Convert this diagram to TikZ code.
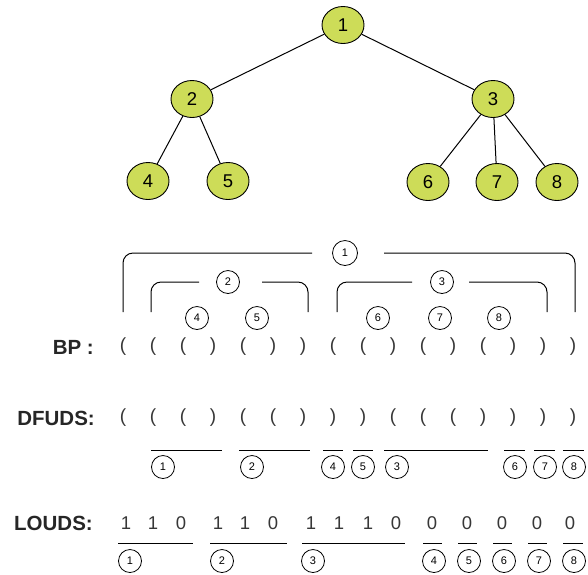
\documentclass[tikz,border=0pt]{standalone}
\usepackage{fontspec}
\setmainfont{Liberation Sans}
\usetikzlibrary{shapes.geometric}
\definecolor{nodefill}{RGB}{205,220,88}
\definecolor{seqgray}{RGB}{55,55,55}
\def\symL{(}
\def\symR{)}
\begin{document}
\begin{tikzpicture}[x=1pt,y=-1pt,
  treenode/.style={ellipse,draw,fill=nodefill,minimum width=42pt,minimum height=37pt,
    inner sep=0pt,line width=0.9pt,font=\fontsize{18.5}{18.5}\selectfont},
  treeedge/.style={line width=1pt},
  idx/.style={circle,draw,minimum size=23pt,inner sep=0pt,line width=0.8pt,
    font=\fontsize{11}{12}\selectfont},
  sym/.style={text=seqgray,inner sep=0pt,font=\fontsize{19}{19}\selectfont},
  rowlabel/.style={anchor=east,inner sep=0pt,text=black!85,
    font=\bfseries\fontsize{20.5}{20.5}\selectfont},
  bracket/.style={line width=1pt,rounded corners=10pt},
  seqbar/.style={line width=1pt}]
\useasboundingbox (0,0) rectangle (588,574);

% ---- the tree ----
\node[treenode] (n1) at (343,25) {1};
\node[treenode] (n2) at (192,99) {2};
\node[treenode] (n3) at (493,99) {3};
\node[treenode] (n4) at (148,181) {4};
\node[treenode] (n5) at (228,181) {5};
\node[treenode] (n6) at (428,182) {6};
\node[treenode] (n7) at (497,182) {7};
\node[treenode] (n8) at (557,182) {8};
\draw[treeedge] (n1) -- (n2);
\draw[treeedge] (n1) -- (n3);
\draw[treeedge] (n2) -- (n4);
\draw[treeedge] (n2) -- (n5);
\draw[treeedge] (n3) -- (n6);
\draw[treeedge] (n3) -- (n7);
\draw[treeedge] (n3) -- (n8);

% ---- balanced parentheses ----
\node[idx,minimum size=25pt] (b1) at (345,253) {1};
\node[idx] (b2) at (228,282) {2};
\node[idx] (b3) at (442,282) {3};
\node[idx] (b4) at (197,318) {4};
\node[idx] (b5) at (257,318) {5};
\node[idx] (b6) at (378,318) {6};
\node[idx] (b7) at (440,318) {7};
\node[idx] (b8) at (499,318) {8};
\draw[bracket] (123,312) |- (312,253);
\draw[bracket] (384,253) -| (575,312);
\draw[bracket] (151,312) |- (199,282);
\draw[bracket] (262,282) -| (308,312);
\draw[bracket] (337,312) |- (412,282);
\draw[bracket] (469,282) -| (547,312);

\node[rowlabel] (bplabel) at (94,347) {BP :};
\foreach \s [count=\i from 0] in {L,L,L,R,L,R,R,L,L,R,L,R,L,R,R,R}
  \node[sym] (bp\i) at (123+30*\i,347) {\csname sym\s\endcsname};

% ---- DFUDS ----
\node[rowlabel] (dflabel) at (95,418) {DFUDS:};
\foreach \s [count=\i from 0] in {L,L,L,R,L,L,R,R,R,L,L,L,R,R,R,R}
  \node[sym] (df\i) at (123+30*\i,418) {\csname sym\s\endcsname};
\draw[seqbar] (151,450) -- (222,450);
\draw[seqbar] (239,450) -- (310,450);
\draw[seqbar] (323,450) -- (343,450);
\draw[seqbar] (353,450) -- (373,450);
\draw[seqbar] (384,450) -- (488,450);
\draw[seqbar] (504,450) -- (525,450);
\draw[seqbar] (534,450) -- (555,450);
\draw[seqbar] (563,450) -- (584,450);
\node[idx] (d1) at (163,467) {1};
\node[idx] (d2) at (252,467) {2};
\node[idx] (d4) at (333,467) {4};
\node[idx] (d5) at (363,467) {5};
\node[idx] (d3) at (397,467) {3};
\node[idx] (d6) at (515,467) {6};
\node[idx] (d7) at (545,467) {7};
\node[idx] (d8) at (574,467) {8};

% ---- LOUDS ----
\node[rowlabel] (ldlabel) at (93,523) {LOUDS:};
\foreach \x/\d [count=\i] in {126/1,153/1,181/0,218/1,245/1,273/0,
    311/1,339/1,368/1,396/0,432/0,467/0,502/0,537/0,570/0}
  \node[sym,font=\fontsize{18.5}{18.5}\selectfont] (ld\i) at (\x,523) {\d};
\draw[seqbar] (118,543) -- (193,543);
\draw[seqbar] (210,543) -- (287,543);
\draw[seqbar] (302,543) -- (405,543);
\draw[seqbar] (423,543) -- (442,543);
\draw[seqbar] (458,543) -- (477,543);
\draw[seqbar] (493,543) -- (512,543);
\draw[seqbar] (528,543) -- (547,543);
\draw[seqbar] (563,543) -- (583,543);
\node[idx] (l1) at (130,561) {1};
\node[idx] (l2) at (222,561) {2};
\node[idx] (l3) at (313,561) {3};
\node[idx] (l4) at (434,561) {4};
\node[idx] (l5) at (469,561) {5};
\node[idx] (l6) at (504,561) {6};
\node[idx] (l7) at (539,561) {7};
\node[idx] (l8) at (574,561) {8};
\end{tikzpicture}
\end{document}
